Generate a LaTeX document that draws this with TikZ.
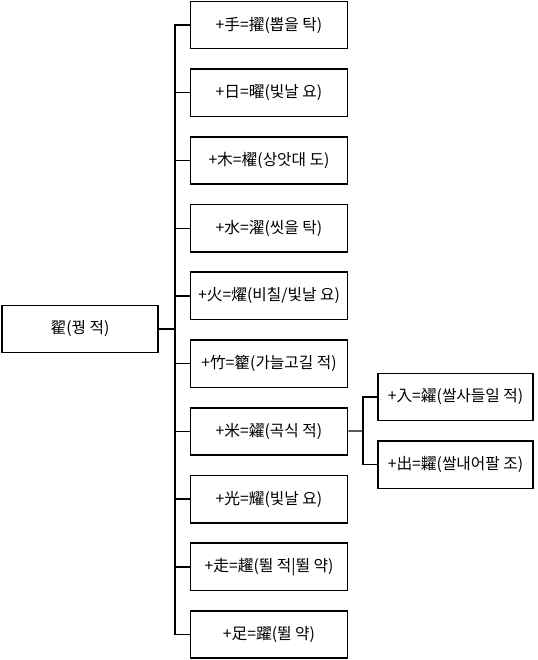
\documentclass[tikz,border=0pt]{standalone}
\usepackage{fontspec}
\setmainfont{Noto Sans CJK KR}
\usetikzlibrary{positioning}

\begin{document}
\begin{tikzpicture}[x=0.75pt, y=-0.75pt, node distance=14.1pt and 11pt,
  box/.style={draw, line width=1.2pt, minimum width=118pt, minimum height=35.5pt,
    inner sep=1pt, font=\fontsize{11.8}{13}\selectfont},
  link/.style={line width=1pt}]
\useasboundingbox (0,0) rectangle (538,660);
\node[box, minimum width=117pt] (root) at (80,329) {翟(꿩 적)};
\node[box] (hand) at (269,25) {+手=擢(뽑을 탁)};
\node[box, below=of hand] (sun) {+日=曜(빛날 요)};
\node[box, below=of sun] (tree) {+木=櫂(상앗대 도)};
\node[box, below=of tree] (water) {+水=濯(씻을 탁)};
\node[box, below=of water] (fire) {+火=燿(비칠/빛날 요)};
\node[box, below=of fire] (bamboo) {+竹=籊(가늘고길 적)};
\node[box, below=of bamboo] (rice) {+米=糴(곡식 적)};
\node[box, below=of rice] (light) {+光=耀(빛날 요)};
\node[box, below=of light] (run) {+走=趯(뛸 적|뛸 약)};
\node[box, below=of run] (foot) {+足=躍(뛸 약)};
\node[box, minimum width=116pt] (enter) at (455.5,397) {+入=糴(쌀사들일 적)};
\node[box, minimum width=116pt, below=of enter] (exit) {+出=糶(쌀내어팔 조)};
% trunk from the root
\coordinate (tr) at (175,329);
\draw[link] (root) -- (tr);
\draw[link] (hand.west) -| (tr) |- (foot.west);
\foreach \n in {sun,tree,water,fire,bamboo,rice,light,run}
  \draw[link] (\n.west -| tr) -- (\n.west);
% rice branch
\coordinate (sub) at (363,431);
\draw[link] (rice) -- (sub);
\draw[link] (enter.west) -| (sub) |- (exit.west);
\end{tikzpicture}
\end{document}
